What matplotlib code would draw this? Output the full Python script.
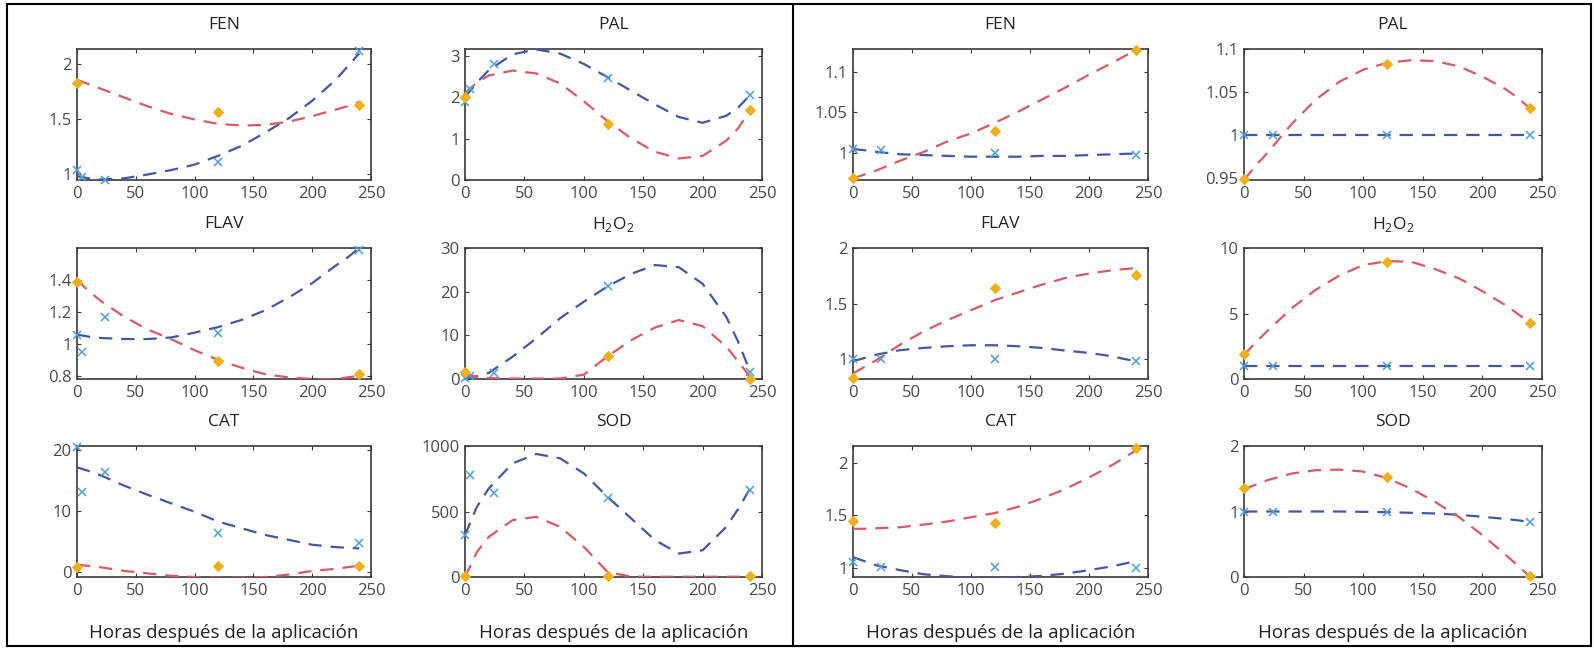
import matplotlib
matplotlib.use("Agg")
import matplotlib.pyplot as plt
import matplotlib.ticker as mticker
from matplotlib.patches import Rectangle

plt.rcParams["font.family"] = ["Open Sans", "DejaVu Sans"]
plt.rcParams["mathtext.fontset"] = "custom"
plt.rcParams["mathtext.rm"] = "Open Sans"

# ── Data ──
FIT_X = [0, 10, 20, 40, 60, 80, 100, 120, 140, 160, 180, 200, 220, 230, 240]
T_BLUE_L = [0, 4, 24, 120, 240]
T_BLUE_R = [0, 24, 120, 240]
T_YELLOW = [0, 120, 240]

# left block
fen_l_blue = [1.04, 0.98, 0.95, 1.11, 2.12]
fen_l_yel = [1.83, 1.57, 1.63]
fen_l_bfit = [0.985, 0.965, 0.955, 0.965, 1.0, 1.04, 1.09, 1.17, 1.26, 1.38, 1.51, 1.67, 1.86, 1.98, 2.1]
fen_l_rfit = [1.86, 1.82, 1.78, 1.70, 1.62, 1.55, 1.50, 1.46, 1.445, 1.45, 1.48, 1.53, 1.59, 1.62, 1.66]

pal_l_blue = [1.88, 2.2, 2.8, 2.45, 2.04]
pal_l_yel = [2.0, 1.36, 1.68]
pal_l_bfit = [2.0, 2.35, 2.65, 3.03, 3.15, 3.05, 2.8, 2.48, 2.15, 1.82, 1.52, 1.38, 1.55, 1.75, 2.05]
pal_l_rfit = [2.1, 2.35, 2.52, 2.64, 2.57, 2.33, 1.9, 1.42, 1.0, 0.68, 0.52, 0.58, 0.95, 1.25, 1.68]

flav_l_blue = [1.058, 0.95, 1.17, 1.07, 1.59]
flav_l_yel = [1.39, 0.89, 0.81]
flav_l_bfit = [1.058, 1.045, 1.037, 1.03, 1.03, 1.04, 1.07, 1.105, 1.15, 1.21, 1.29, 1.38, 1.49, 1.54, 1.6]
flav_l_rfit = [1.40, 1.33, 1.27, 1.17, 1.09, 1.03, 0.96, 0.90, 0.85, 0.81, 0.79, 0.78, 0.78, 0.79, 0.80]

h2o2_l_blue = [0.3, 0.8, 1.3, 21.2, 1.5]
h2o2_l_yel = [1.6, 5.2, 0.1]
h2o2_l_bfit = [0.4, 0.6, 1.4, 5.1, 9.3, 13.9, 17.7, 21.2, 24.1, 26.1, 25.6, 21.8, 14.2, 8.5, 1.7]
h2o2_l_rfit = [1.2, 0.5, 0.2, 0.1, 0.1, 0.1, 1.0, 5.2, 8.9, 11.8, 13.5, 12.1, 7.4, 4.0, 0.5]

cat_l_blue = [20.5, 13.2, 16.5, 6.4, 4.8]
cat_l_yel = [0.87, 0.98, 0.98]
cat_l_bfit = [17.2, 16.6, 15.9, 14.2, 12.7, 11.3, 9.9, 8.3, 7.2, 6.1, 5.3, 4.5, 4.1, 4.0, 3.9]
cat_l_rfit = [1.25, 1.0, 0.8, 0.2, -0.2, -0.6, -0.8, -0.9, -0.9, -0.8, -0.4, 0.2, 0.55, 0.8, 1.1]

sod_l_blue = [320, 780, 640, 600, 665]
sod_l_yel = [5, 10, 5]
sod_l_bfit = [320, 536, 676, 867, 939, 906, 791, 612, 446, 281, 179, 204, 383, 520, 676]
sod_l_rfit = [0, 191, 306, 434, 459, 383, 230, 38, 2, 2, 2, 2, 2, 2, 2]

# right block
fen_r_blue = [1.004, 1.003, 1.0, 0.997]
fen_r_yel = [0.969, 1.027, 1.128]
fen_r_bfit = [1.0045, 1.003, 1.001, 0.998, 0.997, 0.996, 0.995, 0.995, 0.995, 0.996, 0.996, 0.997, 0.998, 0.9985, 0.999]
fen_r_rfit = [0.968, 0.973, 0.978, 0.99, 1.001, 1.014, 1.024, 1.037, 1.051, 1.066, 1.081, 1.097, 1.112, 1.12, 1.128]

pal_r_blue = [1.0, 1.0, 1.0, 1.0]
pal_r_yel = [0.949, 1.083, 1.031]
pal_r_bfit = [1.0] * 15
pal_r_rfit = [0.948, 0.965, 0.98, 1.013, 1.041, 1.062, 1.076, 1.084, 1.087, 1.086, 1.08, 1.068, 1.053, 1.043, 1.031]

flav_r_blue = [1.0, 1.0, 1.0, 0.98]
flav_r_yel = [0.83, 1.64, 1.76]
flav_r_bfit = [0.98, 1.01, 1.04, 1.08, 1.1, 1.115, 1.124, 1.124, 1.115, 1.1, 1.076, 1.055, 1.024, 1.0, 0.98]
flav_r_rfit = [0.87, 0.93, 0.99, 1.13, 1.25, 1.35, 1.44, 1.53, 1.6, 1.67, 1.73, 1.77, 1.8, 1.81, 1.82]

h2o2_r_blue = [1.0, 1.0, 1.0, 1.0]
h2o2_r_yel = [1.93, 8.9, 4.3]
h2o2_r_bfit = [1.0] * 15
h2o2_r_rfit = [1.85, 2.8, 3.7, 5.4, 6.8, 7.9, 8.7, 9.0, 8.95, 8.4, 7.7, 6.7, 5.6, 4.95, 4.3]

cat_r_blue = [1.05, 1.01, 1.01, 1.0]
cat_r_yel = [1.44, 1.43, 2.14]
cat_r_bfit = [1.1, 1.06, 1.02, 0.975, 0.936, 0.917, 0.905, 0.905, 0.91, 0.92, 0.942, 0.975, 1.013, 1.037, 1.064]
cat_r_rfit = [1.37, 1.37, 1.375, 1.385, 1.41, 1.44, 1.48, 1.52, 1.58, 1.66, 1.75, 1.86, 1.98, 2.05, 2.12]

sod_r_blue = [1.0, 1.0, 1.0, 0.84]
sod_r_yel = [1.36, 1.52, 0.02]
sod_r_bfit = [1.0, 1.0, 1.0, 1.0, 1.0, 1.0, 0.995, 0.99, 0.98, 0.97, 0.95, 0.92, 0.885, 0.865, 0.84]
sod_r_rfit = [1.34, 1.41, 1.48, 1.58, 1.63, 1.64, 1.61, 1.51, 1.35, 1.15, 0.92, 0.64, 0.33, 0.17, 0.0]

TITLES = ["FEN", "PAL", "FLAV", r"H$_2$O$_2$", "CAT", "SOD"]
XLABEL = "Horas después de la aplicación"

# ── Layout (pixels in a 1594x649 canvas) ──
W, H = 1594, 649
COLS_PX = [(77, 371), (465, 762), (853, 1148), (1244, 1542)]
ROWS_PX = [(49, 180), (248, 379), (446, 577)]

BLUE_MARK = "#4b9fdc"
BLUE_LINE = "#4357a6"
RED_LINE = "#d85a66"
YELLOW = "#EDB120"
AX_GRAY = "#3a3a3a"
TXT_GRAY = "#4a4a4a"

# (row, col, title, t_blue, blue, yellow, blue fit, red fit, ylim, yticks)
panels = [
    (0, 0, TITLES[0], T_BLUE_L, fen_l_blue, fen_l_yel, fen_l_bfit, fen_l_rfit, (0.95, 2.14), [1, 1.5, 2]),
    (0, 1, TITLES[1], T_BLUE_L, pal_l_blue, pal_l_yel, pal_l_bfit, pal_l_rfit, (0, 3.16), [0, 1, 2, 3]),
    (1, 0, TITLES[2], T_BLUE_L, flav_l_blue, flav_l_yel, flav_l_bfit, flav_l_rfit, (0.78, 1.6), [0.8, 1, 1.2, 1.4]),
    (1, 1, TITLES[3], T_BLUE_L, h2o2_l_blue, h2o2_l_yel, h2o2_l_bfit, h2o2_l_rfit, (0, 30), [0, 10, 20, 30]),
    (2, 0, TITLES[4], T_BLUE_L, cat_l_blue, cat_l_yel, cat_l_bfit, cat_l_rfit, (-0.8, 20.7), [0, 10, 20]),
    (2, 1, TITLES[5], T_BLUE_L, sod_l_blue, sod_l_yel, sod_l_bfit, sod_l_rfit, (0, 1000), [0, 500, 1000]),
    (0, 2, TITLES[0], T_BLUE_R, fen_r_blue, fen_r_yel, fen_r_bfit, fen_r_rfit, (0.966, 1.129), [1, 1.05, 1.1]),
    (0, 3, TITLES[1], T_BLUE_R, pal_r_blue, pal_r_yel, pal_r_bfit, pal_r_rfit, (0.948, 1.1), [0.95, 1, 1.05, 1.1]),
    (1, 2, TITLES[2], T_BLUE_R, flav_r_blue, flav_r_yel, flav_r_bfit, flav_r_rfit, (0.82, 2.0), [1, 1.5, 2]),
    (1, 3, TITLES[3], T_BLUE_R, h2o2_r_blue, h2o2_r_yel, h2o2_r_bfit, h2o2_r_rfit, (0, 10), [0, 5, 10]),
    (2, 2, TITLES[4], T_BLUE_R, cat_r_blue, cat_r_yel, cat_r_bfit, cat_r_rfit, (0.91, 2.16), [1, 1.5, 2]),
    (2, 3, TITLES[5], T_BLUE_R, sod_r_blue, sod_r_yel, sod_r_bfit, sod_r_rfit, (0, 2), [0, 1, 2]),
]

fig = plt.figure(figsize=(W / 100, H / 100), dpi=100)
fig.patch.set_facecolor("white")

for row, col, title, tb, blue, yel, bfit, rfit, ylim, yticks in panels:
    x0, x1 = COLS_PX[col]
    y0, y1 = ROWS_PX[row]
    ax = fig.add_axes([x0 / W, 1 - y1 / H, (x1 - x0) / W, (y1 - y0) / H])

    ax.plot(FIT_X, bfit, color=BLUE_LINE, lw=1.6, dashes=(6, 4), zorder=3)
    ax.plot(FIT_X, rfit, color=RED_LINE, lw=1.6, dashes=(6, 4), zorder=3)
    ax.plot(tb, blue, linestyle="none", marker="x", ms=6, mew=1.1,
            color=BLUE_MARK, zorder=4, clip_on=False)
    ax.plot(T_YELLOW, yel, linestyle="none", marker="D", ms=5, mew=0.8,
            color=YELLOW, mec=YELLOW, zorder=4, clip_on=False)

    ax.set_xlim(0, 250)
    ax.set_ylim(*ylim)
    ax.set_xticks([0, 50, 100, 150, 200, 250])
    ax.set_yticks(yticks)
    ax.yaxis.set_major_formatter(mticker.FuncFormatter(lambda v, p: f"{v:g}"))
    ax.tick_params(direction="in", length=3, width=0.8, top=True, right=True,
                   labelsize=12, colors=AX_GRAY, labelcolor=TXT_GRAY, pad=4)
    for s in ax.spines.values():
        s.set_color(AX_GRAY)
        s.set_linewidth(1.2)

    ax.text(0.5, 1 + 24 / (y1 - y0), title, transform=ax.transAxes,
            ha="center", va="center", fontsize=12.5, color="#222222")
    if row == 2:
        ax.text(0.5, -56 / (y1 - y0), XLABEL, transform=ax.transAxes,
                ha="center", va="center", fontsize=13.5, color="#222222")

# frames around the two blocks
fig.add_artist(Rectangle((7 / W, 3 / H), (1591 - 7) / W, (645 - 3) / H,
                         transform=fig.transFigure, fill=False, ec="black", lw=1.5))
fig.add_artist(plt.Line2D([793 / W, 793 / W], [3 / H, 1 - 4 / H],
                          transform=fig.transFigure, color="black", lw=1.5))

fig.savefig("out.png", dpi=100)
